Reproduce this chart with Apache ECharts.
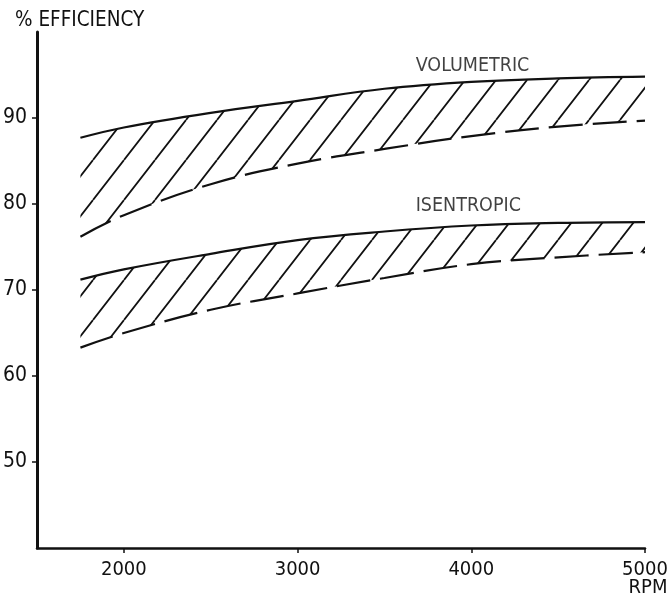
<!DOCTYPE html>
<html>
<head>
<meta charset="utf-8">
<script src="https://cdn.jsdelivr.net/npm/echarts@6/dist/echarts.min.js"></script>
<style>
html,body{margin:0;padding:0;background:#fff;}
#chart{width:669px;height:603px;}
</style>
</head>
<body>
<div id="chart"></div>
<script>
const rpm = [1750, 2000, 2500, 3000, 3500, 4000, 4500, 5000];
const volUpper = [87.7, 88.9, 90.6, 92.0, 93.4, 94.2, 94.6, 94.8];
const volLower = [76.2, 78.7, 82.3, 84.7, 86.4, 87.9, 89.0, 89.7];
const isenUpper = [71.2, 72.4, 74.2, 75.8, 76.8, 77.5, 77.8, 77.9];
const isenLower = [63.3, 65.0, 67.7, 69.6, 71.4, 73.0, 73.8, 74.4];
const xTicks = [2000, 3000, 4000, 5000];
const yTicks = [50, 60, 70, 80, 90];
const bandLabels = [
  { name: 'VOLUMETRIC', x: 3680, y: 96.0 },
  { name: 'ISENTROPIC', x: 3680, y: 79.8 }
];

const FONT = "'Liberation Sans Narrow', 'DejaVu Sans Condensed', sans-serif";
const INK = '#111';

function hatch() {
  const w = 31, h = 40;
  const c = document.createElement('canvas');
  c.width = w; c.height = h;
  const g = c.getContext('2d');
  g.strokeStyle = INK;
  g.lineWidth = 1.8;
  g.beginPath();
  [-w, 0, w].forEach(function (ox) {
    g.moveTo(ox, h);
    g.lineTo(ox + w, 0);
  });
  g.stroke();
  return { image: c, repeat: 'repeat' };
}
const pattern = hatch();

// [value, rpm] so that the stacked dimension is the value (y) dimension.
function pairs(xs, ys) { return xs.map(function (x, i) { return [ys[i], x]; }); }
function diff(a, b) { return a.map(function (v, i) { return +(v - b[i]).toFixed(2); }); }

function band(stackId, lower, upper) {
  return [
    {
      type: 'line', stack: stackId, smooth: 0.4, symbol: 'none', silent: true,
      encode: { x: 1, y: 0 },
      data: pairs(rpm, lower),
      lineStyle: { color: INK, width: 2.2, type: [34, 10] },
      z: 3
    },
    {
      type: 'line', stack: stackId, smooth: 0.4, symbol: 'none', silent: true,
      encode: { x: 1, y: 0 },
      data: pairs(rpm, diff(upper, lower)),
      lineStyle: { color: INK, width: 2.2 },
      areaStyle: { color: pattern, opacity: 1 },
      z: 3
    }
  ];
}

const chart = echarts.init(document.getElementById('chart'));
chart.setOption({
  backgroundColor: '#fff',
  animation: false,
  title: {
    text: '% EFFICIENCY', left: 10, top: 5,
    textStyle: { fontFamily: FONT, fontSize: 20.5, fontWeight: 'normal', color: INK }
  },
  grid: { left: 37, right: 24, top: 32, bottom: 55, outerBoundsMode: 'none', containLabel: false },
  xAxis: {
    type: 'value', min: 1500, max: 5000, z: 20,
    name: 'RPM', nameLocation: 'end', nameGap: 3, nameMoveOverlap: false,
    nameTextStyle: { fontFamily: FONT, fontSize: 20, color: INK, align: 'center', verticalAlign: 'top', padding: [30, 0, 0, 0] },
    splitLine: { show: false },
    axisLine: { lineStyle: { color: INK, width: 2.5 } },
    axisTick: { length: 5, lineStyle: { color: INK, width: 1.5 }, customValues: xTicks },
    axisLabel: { customValues: xTicks, formatter: function (v) { return String(v); }, fontFamily: FONT, fontSize: 20, color: INK, margin: 12 }
  },
  yAxis: {
    type: 'value', min: 40, max: 100, z: 20,
    splitLine: { show: false },
    axisLine: { show: true, lineStyle: { color: INK, width: 3 } },
    axisTick: { show: true, length: 5, lineStyle: { color: INK, width: 1.5 }, customValues: yTicks },
    axisLabel: { customValues: yTicks, formatter: function (v) { return String(v); }, fontFamily: FONT, fontSize: 21, color: INK, margin: 10 }
  },
  series: band('vol', volLower, volUpper).concat(band('isen', isenLower, isenUpper)).concat([
    {
      type: 'scatter', symbolSize: 0, silent: true,
      data: bandLabels.map(function (d) { return { name: d.name, value: [d.x, d.y] }; }),
      label: {
        show: true, position: 'right', distance: 0,
        formatter: function (p) { return p.name; },
        fontFamily: FONT, fontSize: 19.5, color: INK, textBorderWidth: 0
      },
      z: 10
    }
  ])
});
</script>
</body>
</html>
